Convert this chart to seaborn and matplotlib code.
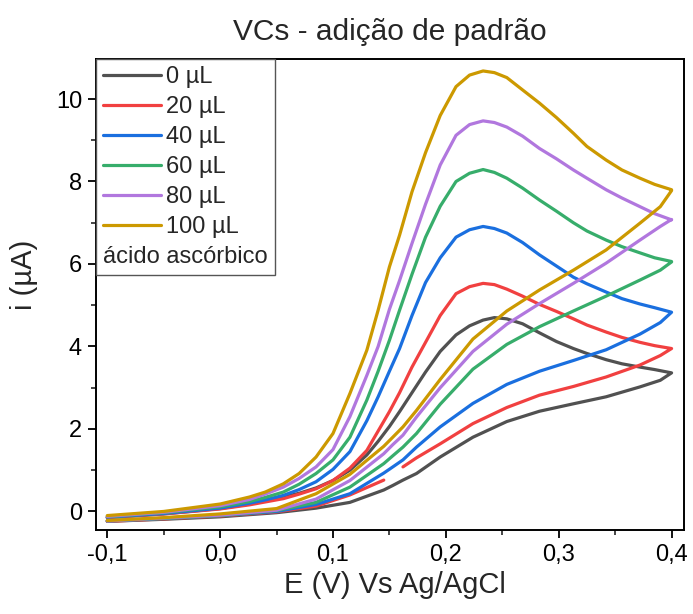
import numpy as np
import pandas as pd
import matplotlib
matplotlib.use("Agg")
import matplotlib.pyplot as plt
import seaborn as sns
from matplotlib.lines import Line2D
from matplotlib.ticker import MultipleLocator, FuncFormatter

# ---------------- data ----------------
labels = ["0 µL", "20 µL", "40 µL", "60 µL", "80 µL", "100 µL"]
legend_note = "ácido ascórbico"
colors = ["#515151", "#F14040", "#1A6FDF", "#37AD6B", "#B177DE", "#CC9900"]

# forward (lower) branch potentials, V
E_fwd = [-0.10, -0.05, 0.00, 0.05, 0.085, 0.115, 0.145, 0.153, 0.162, 0.174,
         0.195, 0.224, 0.254, 0.283, 0.313, 0.342, 0.372, 0.390, 0.400]
i_fwd_0 = [-0.24, -0.19, -0.13, -0.03, 0.08, 0.22, 0.52, 0.63, 0.76, 0.92,
           1.32, 1.80, 2.18, 2.43, 2.61, 2.78, 3.02, 3.18, 3.36]
i_fwd_20 = [-0.24, -0.18, -0.11, -0.01, 0.13, 0.40, 0.76, np.nan, 1.08, 1.30,
            1.64, 2.13, 2.52, 2.82, 3.03, 3.26, 3.55, 3.78, 3.95]
i_fwd_40 = [-0.23, -0.17, -0.10, 0.00, 0.17, 0.43, 0.93, 1.08, 1.25, 1.56,
            2.05, 2.62, 3.08, 3.40, 3.66, 3.92, 4.30, 4.58, 4.83]
i_fwd_60 = [-0.23, -0.17, -0.10, 0.02, 0.22, 0.59, 1.16, 1.35, 1.56, 1.89,
            2.60, 3.45, 4.05, 4.48, 4.86, 5.22, 5.61, 5.85, 6.05]
i_fwd_80 = [-0.23, -0.16, -0.09, 0.03, 0.30, 0.75, 1.40, 1.62, 1.85, 2.29,
            3.00, 3.88, 4.54, 5.04, 5.53, 6.02, 6.58, 6.91, 7.08]
i_fwd_100 = [-0.22, -0.15, -0.06, 0.07, 0.43, 0.90, 1.58, 1.80, 2.05, 2.45,
             3.20, 4.18, 4.86, 5.37, 5.85, 6.34, 6.99, 7.39, 7.78]

# reverse (upper) branch potentials, V
E_rev = [0.400, 0.385, 0.372, 0.356, 0.342, 0.325, 0.313, 0.298, 0.283, 0.268,
         0.254, 0.243, 0.233, 0.221, 0.209, 0.195, 0.182, 0.170, 0.159, 0.150,
         0.140, 0.130, 0.115, 0.100, 0.085, 0.070, 0.056, 0.040, 0.026, 0.000,
         -0.050, -0.100]
i_rev_0 = [3.36, 3.44, 3.50, 3.58, 3.68, 3.83, 3.95, 4.12, 4.33, 4.55,
           4.67, 4.70, 4.64, 4.50, 4.28, 3.88, 3.38, 2.88, 2.42, 2.06,
           1.70, 1.37, 1.00, 0.75, 0.57, 0.44, 0.35, 0.26, 0.18, 0.07,
           -0.06, -0.15]
i_rev_20 = [3.95, 4.02, 4.10, 4.22, 4.35, 4.52, 4.67, 4.85, 5.02, 5.22,
            5.39, 5.50, 5.53, 5.45, 5.28, 4.75, 4.10, 3.50, 2.88, 2.42,
            1.95, 1.48, 1.05, 0.75, 0.55, 0.42, 0.31, 0.23, 0.16, 0.06,
            -0.06, -0.15]
i_rev_40 = [4.83, 4.94, 5.03, 5.16, 5.32, 5.52, 5.68, 5.95, 6.22, 6.52,
            6.75, 6.86, 6.91, 6.83, 6.65, 6.15, 5.55, 4.75, 3.95, 3.40,
            2.78, 2.20, 1.45, 1.02, 0.72, 0.53, 0.39, 0.28, 0.20, 0.08,
            -0.05, -0.14]
i_rev_60 = [6.06, 6.15, 6.27, 6.42, 6.58, 6.80, 7.00, 7.28, 7.55, 7.84,
            8.08, 8.22, 8.29, 8.20, 8.00, 7.40, 6.65, 5.75, 4.88, 4.15,
            3.40, 2.70, 1.80, 1.25, 0.92, 0.66, 0.47, 0.34, 0.24, 0.11,
            -0.03, -0.13]
i_rev_80 = [7.07, 7.22, 7.39, 7.60, 7.80, 8.08, 8.28, 8.55, 8.80, 9.10,
            9.32, 9.43, 9.47, 9.38, 9.12, 8.40, 7.45, 6.50, 5.60, 4.90,
            4.00, 3.30, 2.30, 1.50, 1.08, 0.80, 0.59, 0.42, 0.29, 0.14,
            -0.02, -0.12]
i_rev_100 = [7.80, 7.93, 8.08, 8.28, 8.52, 8.85, 9.17, 9.55, 9.90, 10.22,
             10.52, 10.64, 10.68, 10.58, 10.30, 9.60, 8.70, 7.75, 6.70, 5.93,
             4.88, 3.91, 2.86, 1.89, 1.32, 0.92, 0.67, 0.47, 0.35, 0.18,
             0.00, -0.10]

fwd = [i_fwd_0, i_fwd_20, i_fwd_40, i_fwd_60, i_fwd_80, i_fwd_100]
rev = [i_rev_0, i_rev_20, i_rev_40, i_rev_60, i_rev_80, i_rev_100]

xticks = [-0.1, 0.0, 0.1, 0.2, 0.3, 0.4]
yticks = [0, 2, 4, 6, 8, 10]

# ---------------- table ----------------
rows = []
for lab, f, r in zip(labels, fwd, rev):
    seg = 0
    for e, v in list(zip(E_fwd, f)) + list(zip(E_rev, r)):
        if isinstance(v, float) and np.isnan(v):
            seg += 1
            continue
        rows.append({"E": e, "i": v, "curve": lab, "seg": f"{lab}-{seg}"})
df = pd.DataFrame(rows)

# ---------------- plot ----------------
sns.set_style("ticks")
plt.rcParams["font.family"] = ["Liberation Sans", "DejaVu Sans"]

fig = plt.figure(figsize=(6.93, 6.14), dpi=100)
ax = fig.add_axes([0.1385, 0.1368, 0.8485, 0.7671])

sns.lineplot(data=df, x="E", y="i", hue="curve", units="seg", estimator=None,
             sort=False, palette=colors, hue_order=labels, linewidth=2.3,
             legend=False, ax=ax)

ax.set_xlim(-0.110, 0.411)
ax.set_ylim(-0.45, 10.97)
ax.set_xticks(xticks)
ax.set_yticks(yticks)
ax.xaxis.set_minor_locator(MultipleLocator(0.05))
ax.yaxis.set_minor_locator(MultipleLocator(1))
ax.xaxis.set_major_formatter(FuncFormatter(lambda v, p: f"{v:.1f}".replace(".", ",").replace("-0,0", "0,0")))
ax.yaxis.set_major_formatter(FuncFormatter(lambda v, p: f"{v:.0f}"))

for s in ax.spines.values():
    s.set_visible(True)
    s.set_linewidth(1.4)
    s.set_color("black")
ax.tick_params(which="major", direction="out", length=6, width=1.3, labelsize=17,
               colors="black", pad=4)
ax.tick_params(which="minor", direction="out", length=3.5, width=1.2)
ax.tick_params(top=False, right=False, which="both")

ax.set_xlabel("E (V) Vs Ag/AgCl", fontsize=21)
ax.set_ylabel("i (µA)", fontsize=21)
ax.xaxis.set_label_coords(0.509, -0.088)
ax.yaxis.set_label_coords(-0.099, 0.541)
ax.set_title("VCs - adição de padrão", fontsize=21.5, pad=14)

handles = [Line2D([], [], color=c, lw=2.3) for c in colors] + [Line2D([], [], color="none")]
leg = ax.legend(handles, labels + [legend_note], loc="upper left",
                bbox_to_anchor=(0, 1), borderaxespad=0, frameon=True,
                fancybox=False, edgecolor="#555555", framealpha=1,
                fontsize=17, handlelength=2.45, handletextpad=0.2,
                labelspacing=0.34, borderpad=0.3)
leg.get_frame().set_linewidth(1.0)
try:
    col = leg._legend_handle_box.get_children()[0]
    item = col.get_children()[-1]
    item.get_children()[0].width = 0
    item.sep = 0
except Exception:
    pass

fig.savefig("out.png", dpi=100)
